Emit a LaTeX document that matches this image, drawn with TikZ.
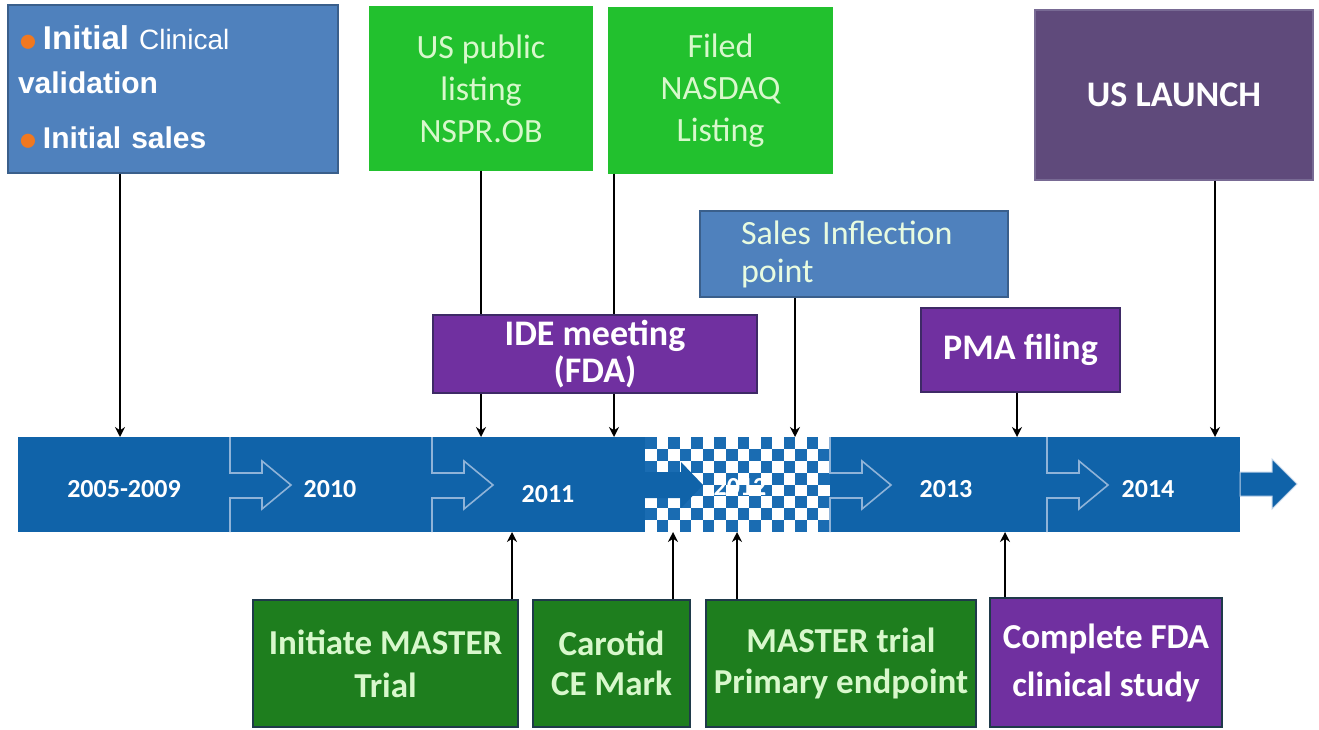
\documentclass[tikz,border=0pt]{standalone}
\usepackage{fontspec}
\setmainfont{Carlito}
\newfontfamily\arialish{Liberation Sans}
\usepackage{xcolor}
\usetikzlibrary{arrows.meta, positioning}
\definecolor{barblue}{HTML}{1063A9}
\definecolor{checkblue}{HTML}{1A6CB2}
\definecolor{notchline}{HTML}{8FB3D8}
\definecolor{steelbox}{HTML}{4F81BD}
\definecolor{steeledge}{HTML}{3A5F8B}
\definecolor{brightgreen}{HTML}{22C12E}
\definecolor{palegreen}{HTML}{D8F8CC}
\definecolor{darkgreen}{HTML}{1E7E1E}
\definecolor{darkedge}{HTML}{1F3A4A}
\definecolor{violetbox}{HTML}{7030A0}
\definecolor{violetedge}{HTML}{3E2A66}
\definecolor{dullviolet}{HTML}{5F4A7B}
\definecolor{bulletorange}{HTML}{F07820}
\newcommand{\orangedot}{\textcolor{bulletorange}{\rmfamily\fontsize{40}{40}\selectfont\raisebox{-4pt}{\textbullet}}}

\begin{document}
\begin{tikzpicture}[x=1pt, y=-1pt,
    box/.style={rectangle, draw, line width=1.5pt, inner sep=0pt, align=center, text=white},
    boldtext/.style={font=\fontsize{36}{37}\selectfont\bfseries},
    lighttext/.style={font=\fontsize{34}{42}\selectfont, text=palegreen},
    yearlbl/.style={text=white, font=\fontsize{26}{26}\selectfont\bfseries},
    arrow/.style={-{Stealth[length=10pt,width=10pt]}, line width=2.6pt},
    notch/.style={draw=notchline, line width=1.6pt}
]
\useasboundingbox (0,0) rectangle (1319,730);

% timeline bar
\fill[barblue] (18,437) rectangle (1240,532);
\fill[white] (645,437) rectangle (830,532);
\foreach \i in {0,...,15}
  \foreach \j in {0,...,7}{
    \pgfmathtruncatemacro\k{mod(\i+\j,2)}
    \ifnum\k=0
      \fill[checkblue] ({645+\i*185/16},{437+\j*95/8}) rectangle ++(185/16,95/8);
    \fi
  }
\foreach \x in {230,432,830,1047}
  \draw[notch] (\x,437) -- (\x,473) -- ++(32,0) -- ++(0,-12) -- ++(29,24)
    -- ++(-29,24) -- ++(0,-11) -- (\x,498) -- (\x,532);
\fill[barblue] (645,472) -- (681,472) -- (681,462) -- (703,485) -- (681,508) -- (681,498) -- (645,498) -- cycle;
\filldraw[fill=barblue, draw=notchline!60, line width=1pt] (1240,472) -- (1272,472) -- (1272,459)
  -- (1297,484) -- (1272,509) -- (1272,496) -- (1240,496) -- cycle;

\node[yearlbl] (y1) at (124,489) {2005-2009};
\node[yearlbl] (y2) at (330,489) {2010};
\node[yearlbl] (y3) at (548,494) {2011};
\node[yearlbl] (y4) at (740,487) {2012};
\node[yearlbl] (y5) at (946,489) {2013};
\node[yearlbl] (y6) at (1148,489) {2014};

% points where the connectors meet the bar
\coordinate (p1) at (120,437);
\coordinate (p2) at (481,437);
\coordinate (p3) at (614,437);
\coordinate (p4) at (795,437);
\coordinate (p5) at (1017,437);
\coordinate (p6) at (1215,437);
\coordinate (q1) at (512,532);
\coordinate (q2) at (673,532);
\coordinate (q3) at (737,532);
\coordinate (q4) at (1005,532);

% top boxes
\node[box, fill=steelbox, draw=steeledge, minimum width=330, minimum height=168,
      text width=310, align=left, font=\arialish\fontsize{30}{44}\selectfont] (clin) at (173,89)
  {\orangedot\,{\fontsize{33}{44}\selectfont\bfseries Initial}
   {\fontsize{28}{44}\selectfont Clinical}\\
   {\bfseries validation}\\[11pt]
   \orangedot\,{\bfseries Initial sales}};
\node[box, fill=brightgreen, draw=brightgreen, lighttext, minimum width=222, minimum height=163]
  (nspr) at (481,88.5) {US public\\listing\\NSPR.OB};
\node[box, fill=brightgreen, draw=brightgreen, lighttext, minimum width=223, minimum height=165]
  (nasdaq) at (720.5,90.5) {Filed\\NASDAQ\\Listing};
\node[box, fill=dullviolet, draw=violetedge!70, boldtext, minimum width=278, minimum height=170]
  (launch) at (1174,95) {US LAUNCH};
\node[box, fill=steelbox, draw=steeledge, font=\fontsize{34}{38}\selectfont, text=palegreen!60!white,
      minimum width=308, minimum height=86, text width=226, align=left] (sales) at (854,254)
  {Sales Inflection\\point};
\node[box, fill=violetbox, draw=violetedge, boldtext, minimum width=199, minimum height=84]
  (pma) at (1020.5,350) {PMA filing};

% bottom boxes
\node[box, fill=darkgreen, draw=darkedge, font=\fontsize{35}{43}\selectfont\bfseries,
      text=palegreen, minimum width=265, minimum height=127] (initiate) at (385.5,663.5)
  {Initiate MASTER\\Trial};
\node[box, fill=darkgreen, draw=darkedge, font=\fontsize{35}{40}\selectfont\bfseries,
      text=palegreen, minimum width=157, minimum height=127] (carotid) at (611.5,663.5)
  {Carotid\\CE Mark};
\node[box, fill=darkgreen, draw=darkedge, font=\fontsize{35}{41}\selectfont\bfseries,
      text=palegreen, minimum width=270, minimum height=127] (primary) at (841,663.5)
  {MASTER trial\\Primary endpoint};
\node[box, fill=violetbox, draw=darkedge, font=\fontsize{35}{48}\selectfont\bfseries,
      minimum width=232, minimum height=129] (complete) at (1106,662.5)
  {Complete FDA\\clinical study};

% connectors
\draw[arrow] (clin.south -| p1) -- (p1);
\draw[arrow] (nspr.south -| p2) -- (p2);
\draw[arrow] (nasdaq.south -| p3) -- (p3);
\draw[arrow] (sales.south -| p4) -- (p4);
\draw[arrow] (pma.south -| p5) -- (p5);
\draw[arrow] (launch.south -| p6) -- (p6);
\draw[arrow] (initiate.north -| q1) -- (q1);
\draw[arrow] (carotid.north -| q2) -- (q2);
\draw[arrow] (primary.north -| q3) -- (q3);
\draw[arrow] (complete.north -| q4) -- (q4);

% drawn last so it sits over the two long connectors
\node[box, fill=violetbox, draw=violetedge, boldtext, minimum width=324, minimum height=78]
  (ide) at (595,354) {IDE meeting\\(FDA)};

\end{tikzpicture}
\end{document}
